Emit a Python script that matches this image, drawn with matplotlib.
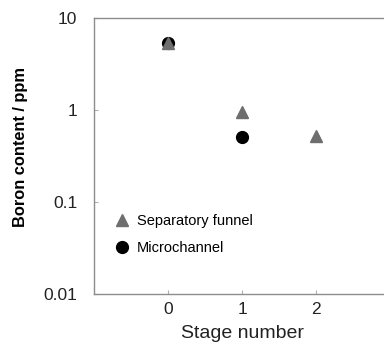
import numpy as np
import matplotlib.pyplot as plt

plt.rcParams['font.family'] = ['Liberation Sans', 'DejaVu Sans']

# Data
stage_funnel = [0, 1, 2]
boron_funnel = [5.3, 0.94, 0.52]
stage_micro = [0, 1]
boron_micro = [5.4, 0.51]

fig = plt.figure(figsize=(3.84, 3.45), dpi=100)
ax = fig.add_axes([0.2448, 0.1478, 0.771, 0.80])

# Circles first so the triangle sits on top at stage 0
h_micro, = ax.plot(stage_micro, boron_micro, 'o', color='black',
                   markersize=8.5, linestyle='none', label='Microchannel')
h_funnel, = ax.plot(stage_funnel, boron_funnel, '^', color='#6e6e6e',
                    markersize=9, linestyle='none', label='Separatory funnel')

ax.set_yscale('log')
ax.set_ylim(0.01, 10)
ax.set_xlim(-1, 3)
ax.set_xticks([0, 1, 2])
ax.set_yticks([0.01, 0.1, 1, 10])
ax.set_yticklabels(['0.01', '0.1', '1', '10'])
ax.minorticks_off()
ax.tick_params(direction='in', length=3, width=0.8, color='#b0b0b0',
               labelsize=12.5, labelcolor='#222222')
ax.tick_params(axis='x', pad=6)
ax.tick_params(axis='y', pad=12)

for s in ax.spines.values():
    s.set_color('#8c8c8c')
    s.set_linewidth(1)

ax.set_xlabel('Stage number', fontsize=14, color='#222222')
ax.xaxis.set_label_coords(0.5, -0.112)
ax.set_ylabel('Boron content / ppm', fontsize=11.8, fontweight='bold',
              color='black')
ax.yaxis.set_label_coords(-0.222, 0.533)

ax.legend([h_funnel, h_micro], ['Separatory funnel', 'Microchannel'],
          loc='upper left', bbox_to_anchor=(0.013, 0.338), frameon=False,
          fontsize=10.5, handletextpad=0.3, labelspacing=0.9,
          handlelength=1.5)

fig.savefig('out.png', dpi=100)
